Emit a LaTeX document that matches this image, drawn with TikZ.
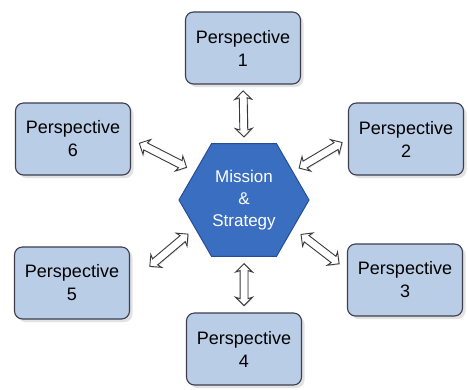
\documentclass[tikz,border=0pt]{standalone}
\usepackage[svgnames, dvipsnames]{xcolor}
\usepackage{fontspec}
\setmainfont{Liberation Sans}
\usetikzlibrary{calc, shapes.geometric, shapes.arrows, shadows, arrows.meta}
\definecolor{persfill}{RGB}{185,205,230}
\definecolor{persline}{RGB}{60,62,78}
\definecolor{hubfill}{RGB}{58,110,192}
\definecolor{hubline}{RGB}{38,78,150}
\tikzset{>=latex,
  persp/.style={draw=persline, line width=1.1pt, fill=persfill, rounded corners=8pt,
    minimum width=115pt, minimum height=72pt, align=center,
    font=\fontsize{18}{23}\selectfont,
    drop shadow={shadow xshift=3pt, shadow yshift=-3pt, fill=gray!45}},
  hubhex/.style={regular polygon, regular polygon sides=6, minimum size=130pt, inner sep=0pt,
    draw=hubline, line width=1pt, fill=hubfill, text=white, align=center,
    font=\fontsize{17}{22}\selectfont},
  twoway/.style={double arrow, draw=gray!45!black, fill=white, line width=0.9pt,
    inner sep=3.5pt, minimum width=16pt, minimum height=44pt,
    double arrow head extend=4.5pt, double arrow tip angle=90, double arrow head indent=1.5pt,
    drop shadow={shadow xshift=1pt, shadow yshift=-1pt, fill=gray!40}}}
\begin{document}
\begin{tikzpicture}[x=1pt, y=-1pt]
\useasboundingbox (0,0) rectangle (468,389);
\node[hubhex] (hub) at (244,200) {Mission\\\&\\Strategy};
\node[persp] (p1) at (243,48) {Perspective\\1};
\node[persp] (p2) at (406,139) {Perspective\\2};
\node[persp] (p3) at (405,280) {Perspective\\3};
\node[persp] (p4) at (244,349) {Perspective\\4};
\node[persp] (p5) at (72,283) {Perspective\\5};
\node[persp] (p6) at (73,139) {Perspective\\6};
\path (p1.south) -- node[twoway, sloped, minimum height=46pt] (a1) {} (hub.north);
\path (hub.30) -- node[twoway, sloped, minimum height=50pt] (a2) {} (p2.west);
\path (hub.-30) -- node[twoway, sloped, minimum height=48pt] (a3) {} (p3.170);
\path (hub.south) -- node[twoway, sloped, minimum height=42pt] (a4) {} (p4.north);
\path (p5.east) -- node[twoway, sloped, pos=0.6, minimum height=50pt] (a5) {} (hub.-150);
\path (p6.east) -- node[twoway, sloped, minimum height=53pt] (a6) {} (hub.150);
\end{tikzpicture}
\end{document}
